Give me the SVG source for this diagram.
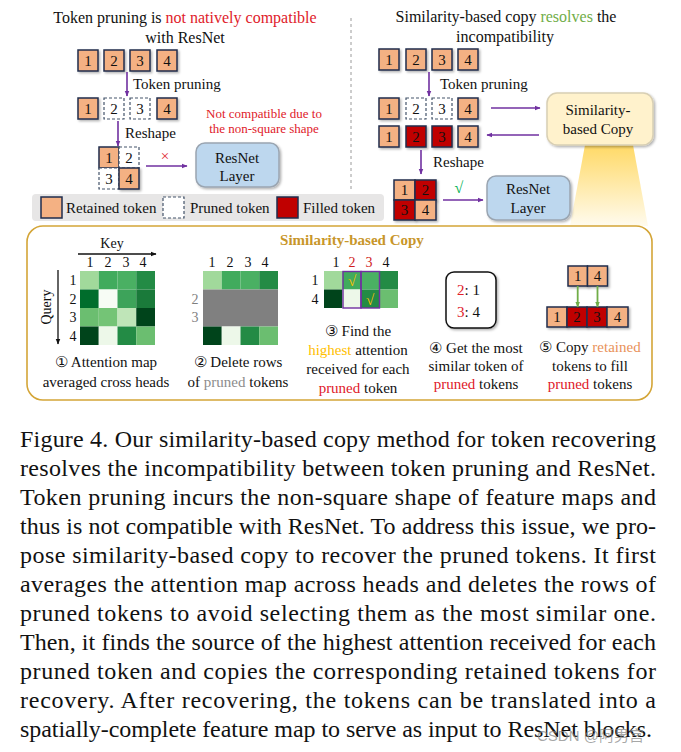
<svg xmlns="http://www.w3.org/2000/svg" width="681" height="752" viewBox="0 0 681 752">
<defs>
<style>
text{font-family:"Liberation Serif","Times New Roman",serif;fill:#111;}
.t15{font-size:15px;}
.t16{font-size:16px;}
.c{text-anchor:middle;}
.tok{fill:#F4B183;stroke:#1F2D4D;stroke-width:1.5;filter:url(#sh);}
.red{fill:#C00000;stroke:#1F2D4D;stroke-width:1.5;filter:url(#sh);}
.dash{fill:#fff;stroke:#44546A;stroke-width:1.2;stroke-dasharray:3 2;}
.num{font-size:15px;text-anchor:middle;}
.arr{stroke:#7030A0;stroke-width:1.6;fill:none;marker-end:url(#ap);}
.arrk{stroke:#111;stroke-width:1.3;fill:none;marker-end:url(#ak);}
.arrg{stroke:#70AD47;stroke-width:1.8;fill:none;marker-end:url(#ag);}
.resnet{fill:#BDD7EE;stroke:#9AA5B1;stroke-width:1.5;filter:url(#sh);}
.cap{font-size:24px;}
.rd{fill:#E0202A;}
</style>
<filter id="sh" x="-20%" y="-20%" width="150%" height="150%">
<feDropShadow dx="1.5" dy="1.5" stdDeviation="1" flood-color="#000" flood-opacity="0.3"/>
</filter>
<marker id="ap" viewBox="0 0 10 10" refX="9" refY="5" markerWidth="6" markerHeight="6" markerUnits="userSpaceOnUse" orient="auto"><path d="M0,1 L10,5 L0,9 z" fill="#7030A0"/></marker>
<marker id="ak" viewBox="0 0 10 10" refX="9" refY="5" markerWidth="6" markerHeight="6" markerUnits="userSpaceOnUse" orient="auto"><path d="M0,1 L10,5 L0,9 z" fill="#111"/></marker>
<marker id="ag" viewBox="0 0 10 10" refX="9" refY="5" markerWidth="6" markerHeight="6" markerUnits="userSpaceOnUse" orient="auto"><path d="M0,1 L10,5 L0,9 z" fill="#70AD47"/></marker>
<linearGradient id="beam" x1="0" y1="0" x2="0" y2="1">
<stop offset="0" stop-color="#FFD966"/>
<stop offset="1" stop-color="#FFFBEE"/>
</linearGradient>
</defs>
<rect width="681" height="752" fill="#fff"/>

<!-- divider -->
<line x1="351" y1="18" x2="351" y2="190" stroke="#9a9a9a" stroke-width="1" stroke-dasharray="3 3"/>

<!-- beam -->
<polygon points="585,145 633,145 648,226 570,226" fill="url(#beam)"/>

<!-- Left panel -->
<g id="left-title">
<text class="t16 c" x="185" y="23">Token pruning is <tspan class="rd">not natively compatible</tspan></text>
<text class="t16 c" x="185" y="43">with ResNet</text>
</g>
<g id="left-row1">
<rect class="tok" x="78" y="50" width="20" height="21"/><text class="num" x="88" y="66">1</text>
<rect class="tok" x="104" y="50" width="20" height="21"/><text class="num" x="114" y="66">2</text>
<rect class="tok" x="130" y="50" width="20" height="21"/><text class="num" x="140" y="66">3</text>
<rect class="tok" x="157" y="50" width="20" height="21"/><text class="num" x="167" y="66">4</text>
</g>
<g id="left-row2">
<rect class="tok" x="78" y="98" width="20" height="21"/><text class="num" x="88" y="114">1</text>
<rect class="dash" x="104" y="98" width="20" height="21"/><text class="num" x="114" y="114">2</text>
<rect class="dash" x="130" y="98" width="20" height="21"/><text class="num" x="140" y="114">3</text>
<rect class="tok" x="157" y="98" width="20" height="21"/><text class="num" x="167" y="114">4</text>
</g>
<g id="left-grid">
<rect class="tok" x="99" y="147" width="20" height="21"/><text class="num" x="109" y="163">1</text>
<rect class="dash" x="119" y="147" width="20" height="21"/><text class="num" x="129" y="163">2</text>
<rect class="dash" x="99" y="168" width="20" height="21"/><text class="num" x="109" y="184">3</text>
<rect class="tok" x="119" y="168" width="20" height="21"/><text class="num" x="129" y="184">4</text>
</g>
<g id="left-resnet">
<rect class="resnet" x="196" y="143" width="83" height="44" rx="9"/>
<text class="t15 c" x="237" y="163">ResNet</text>
<text class="t15 c" x="237" y="181">Layer</text>
</g>
<g id="left-note">
<text class="c rd" style="font-size:13px" x="264" y="118">Not compatible due to</text>
<text class="c rd" style="font-size:13px" x="264" y="133">the non-square shape</text>
</g>

<!-- Right panel -->
<g id="right-title">
<text class="t16 c" x="506" y="22">Similarity-based copy <tspan fill="#70AD47">resolves</tspan> the</text>
<text class="t16 c" x="505" y="42">incompatibility</text>
</g>
<g id="right-row1">
<rect class="tok" x="379" y="49" width="20" height="21"/><text class="num" x="389" y="65">1</text>
<rect class="tok" x="406" y="49" width="20" height="21"/><text class="num" x="416" y="65">2</text>
<rect class="tok" x="432" y="49" width="20" height="21"/><text class="num" x="442" y="65">3</text>
<rect class="tok" x="458" y="49" width="20" height="21"/><text class="num" x="468" y="65">4</text>
</g>
<g id="right-row2">
<rect class="tok" x="379" y="98" width="20" height="21"/><text class="num" x="389" y="114">1</text>
<rect class="dash" x="406" y="98" width="20" height="21"/><text class="num" x="416" y="114">2</text>
<rect class="dash" x="432" y="98" width="20" height="21"/><text class="num" x="442" y="114">3</text>
<rect class="tok" x="458" y="98" width="20" height="21"/><text class="num" x="468" y="114">4</text>
</g>
<g id="right-row3">
<rect class="tok" x="379" y="126" width="20" height="21"/><text class="num" x="389" y="142">1</text>
<rect class="red" x="406" y="126" width="20" height="21"/><text class="num" x="416" y="142">2</text>
<rect class="red" x="432" y="126" width="20" height="21"/><text class="num" x="442" y="142">3</text>
<rect class="tok" x="458" y="126" width="20" height="21"/><text class="num" x="468" y="142">4</text>
</g>
<g id="sim-box">
<rect x="547" y="93" width="106" height="52" rx="10" fill="#FFF2CC" stroke="#D8CFB4" stroke-width="1.5" filter="url(#sh)"/>
<text class="t15 c" x="598" y="115">Similarity-</text>
<text class="t15 c" x="598" y="134">based Copy</text>
</g>
<g id="right-grid">
<rect class="tok" x="394" y="180" width="21" height="20"/><text class="num" x="404.5" y="195">1</text>
<rect class="red" x="415" y="180" width="21" height="20"/><text class="num" x="425.5" y="195">2</text>
<rect class="red" x="394" y="200" width="21" height="20"/><text class="num" x="404.5" y="215">3</text>
<rect class="tok" x="415" y="200" width="21" height="20"/><text class="num" x="425.5" y="215">4</text>
</g>
<g id="right-resnet">
<rect class="resnet" x="487" y="176" width="83" height="44" rx="9"/>
<text class="t15 c" x="528" y="194">ResNet</text>
<text class="t15 c" x="528" y="213">Layer</text>
</g>

<!-- Legend -->
<g id="legend">
<rect x="32" y="194" width="352" height="27" rx="4" fill="#E7E6E6"/>
<rect class="tok" x="41" y="197" width="21" height="21" style="filter:none"/>
<text class="t15" x="66" y="213">Retained token</text>
<rect class="dash" x="163" y="197" width="21" height="21"/>
<text class="t15" x="190" y="213">Pruned token</text>
<rect class="red" x="277" y="197" width="21" height="21" style="filter:none"/>
<text class="t15" x="303" y="213">Filled token</text>
</g>

<!-- Bottom panel -->
<g id="sbc-panel">
<rect x="27" y="226" width="625" height="174" rx="16" fill="#fff" fill-opacity="0" stroke="#D4A537" stroke-width="1.6"/>
<text class="c" style="font-size:15px;font-weight:bold;fill:#C8962A" x="352" y="245">Similarity-based Copy</text>
</g>

<g id="step1">
<text class="t15 c" x="112" y="248" style="font-size:14px">Key</text>
<text class="c" style="font-size:14px" x="90" y="267">1</text>
<text class="c" style="font-size:14px" x="108" y="267">2</text>
<text class="c" style="font-size:14px" x="126" y="267">3</text>
<text class="c" style="font-size:14px" x="143" y="267">4</text>
<text class="c" style="font-size:14px" x="73" y="285">1</text>
<text class="c" style="font-size:14px" x="73" y="304">2</text>
<text class="c" style="font-size:14px" x="73" y="322">3</text>
<text class="c" style="font-size:14px" x="73" y="341">4</text>
<text class="c" style="font-size:14px" transform="translate(51,307) rotate(-90)">Query</text>
<rect x="80" y="271" width="18.75" height="18.5" fill="#A1D99B"/>
<rect x="98.75" y="271" width="18.75" height="18.5" fill="#41AB5D"/>
<rect x="117.5" y="271" width="18.75" height="18.5" fill="#4AB063"/>
<rect x="136.25" y="271" width="18.75" height="18.5" fill="#238B45"/>
<rect x="80" y="289.5" width="18.75" height="18.5" fill="#006D2C"/>
<rect x="98.75" y="289.5" width="18.75" height="18.5" fill="#F7FCF5"/>
<rect x="117.5" y="289.5" width="18.75" height="18.5" fill="#3DA35A"/>
<rect x="136.25" y="289.5" width="18.75" height="18.5" fill="#1A7A3A"/>
<rect x="80" y="308" width="18.75" height="18.5" fill="#6BBE70"/>
<rect x="98.75" y="308" width="18.75" height="18.5" fill="#74C476"/>
<rect x="117.5" y="308" width="18.75" height="18.5" fill="#BFE5B8"/>
<rect x="136.25" y="308" width="18.75" height="18.5" fill="#00441B"/>
<rect x="80" y="326.5" width="18.75" height="18.5" fill="#00441B"/>
<rect x="98.75" y="326.5" width="18.75" height="18.5" fill="#EDF8E9"/>
<rect x="117.5" y="326.5" width="18.75" height="18.5" fill="#238B45"/>
<rect x="136.25" y="326.5" width="18.75" height="18.5" fill="#6BBE70"/>
<text class="t15 c" x="106" y="367">① Attention map</text>
<text class="t15 c" x="106" y="387">averaged cross heads</text>
</g>

<g id="step2">
<text class="c" style="font-size:14px" x="212" y="267">1</text>
<text class="c" style="font-size:14px" x="230" y="267">2</text>
<text class="c" style="font-size:14px" x="248" y="267">3</text>
<text class="c" style="font-size:14px" x="265" y="267">4</text>
<text class="c" style="font-size:14px;fill:#7F7F7F" x="195" y="304">2</text>
<text class="c" style="font-size:14px;fill:#7F7F7F" x="195" y="322">3</text>
<rect x="203" y="271" width="18.75" height="18.5" fill="#A1D99B"/>
<rect x="221.75" y="271" width="18.75" height="18.5" fill="#41AB5D"/>
<rect x="240.5" y="271" width="18.75" height="18.5" fill="#4AB063"/>
<rect x="259.25" y="271" width="18.75" height="18.5" fill="#238B45"/>
<rect x="203" y="289.5" width="75" height="37" fill="#808080"/>
<rect x="203" y="326.5" width="18.75" height="18.5" fill="#00441B"/>
<rect x="221.75" y="326.5" width="18.75" height="18.5" fill="#EDF8E9"/>
<rect x="240.5" y="326.5" width="18.75" height="18.5" fill="#238B45"/>
<rect x="259.25" y="326.5" width="18.75" height="18.5" fill="#6BBE70"/>
<text class="t15 c" x="238" y="367">② Delete rows</text>
<text class="t15 c" x="238" y="387">of <tspan fill="#8C8C8C">pruned</tspan> tokens</text>
</g>

<g id="step3">
<text class="c" style="font-size:14px" x="336" y="267">1</text>
<text class="c" style="font-size:14px;fill:#D01C1C" x="352" y="267">2</text>
<text class="c" style="font-size:14px;fill:#D01C1C" x="369" y="267">3</text>
<text class="c" style="font-size:14px" x="386" y="267">4</text>
<text class="c" style="font-size:14px" x="315" y="285">1</text>
<text class="c" style="font-size:14px" x="315" y="304">4</text>
<rect x="324" y="271" width="18.5" height="18.5" fill="#A1D99B"/>
<rect x="342.5" y="271" width="18.5" height="18.5" fill="#41AB5D"/>
<rect x="361" y="271" width="18.5" height="18.5" fill="#4AB063"/>
<rect x="379.5" y="271" width="18.5" height="18.5" fill="#238B45"/>
<rect x="324" y="289.5" width="18.5" height="18.5" fill="#00441B"/>
<rect x="342.5" y="289.5" width="18.5" height="18.5" fill="#EDF8E9"/>
<rect x="361" y="289.5" width="18.5" height="18.5" fill="#238B45"/>
<rect x="379.5" y="289.5" width="18.5" height="18.5" fill="#6BBE70"/>
<rect x="343" y="271.5" width="18" height="36.5" fill="none" stroke="#7030A0" stroke-width="1.4"/>
<rect x="361" y="271.5" width="18.5" height="36.5" fill="none" stroke="#7030A0" stroke-width="1.4"/>
<text class="c" style="font-size:15px;fill:#FFC000" x="352" y="286">√</text>
<text class="c" style="font-size:15px;fill:#FFC000" x="370" y="305">√</text>
<text class="t15 c" x="358" y="336">③ Find the</text>
<text class="t15 c" x="358" y="355"><tspan fill="#FFC000">highest</tspan> attention</text>
<text class="t15 c" x="358" y="374">received for each</text>
<text class="t15 c" x="358" y="393"><tspan class="rd">pruned</tspan> token</text>
</g>

<g id="step4">
<rect x="446" y="272" width="50" height="56" rx="8" fill="#fff" stroke="#111" stroke-width="1.5" filter="url(#sh)"/>
<text class="t15" x="457" y="295"><tspan class="rd">2</tspan>: 1</text>
<text class="t15" x="457" y="317"><tspan class="rd">3</tspan>: 4</text>
<text class="t15 c" x="476" y="353">④ Get the most</text>
<text class="t15 c" x="476" y="371">similar token of</text>
<text class="t15 c" x="476" y="389"><tspan class="rd">pruned</tspan> tokens</text>
</g>

<g id="step5">
<rect class="tok" x="568" y="266" width="19.5" height="20"/><text class="num" x="577.7" y="281">1</text>
<rect class="tok" x="587.5" y="266" width="20" height="20"/><text class="num" x="597.5" y="281">4</text>
<rect class="tok" x="547" y="307" width="20" height="20"/><text class="num" x="557" y="322">1</text>
<rect class="red" x="567" y="307" width="20" height="20"/><text class="num" x="577" y="322">2</text>
<rect class="red" x="587" y="307" width="20" height="20"/><text class="num" x="597" y="322">3</text>
<rect class="tok" x="607" y="307" width="21" height="20"/><text class="num" x="617.5" y="322">4</text>
<text class="t15 c" x="590" y="352">⑤ Copy <tspan fill="#E9925A">retained</tspan></text>
<text class="t15 c" x="590" y="371">tokens to fill</text>
<text class="t15 c" x="590" y="389"><tspan class="rd">pruned</tspan> tokens</text>
</g>

<g id="connectors">
<line class="arr" x1="127" y1="72" x2="127" y2="96"/>
<text class="t15" x="133" y="89">Token pruning</text>
<line class="arr" x1="118" y1="121" x2="118" y2="146"/>
<text class="t15" x="125" y="138">Reshape</text>
<line class="arr" x1="146" y1="166" x2="187" y2="166"/>
<text class="c rd" style="font-size:15px" x="165" y="161">×</text>

<line class="arr" x1="429" y1="72" x2="429" y2="96"/>
<text class="t15" x="440" y="89">Token pruning</text>
<line class="arr" x1="491" y1="108" x2="540" y2="108"/>
<line class="arr" x1="539" y1="135" x2="487" y2="135"/>
<line class="arr" x1="421" y1="150" x2="421" y2="174"/>
<text class="t15" x="433" y="167">Reshape</text>
<line class="arr" x1="443" y1="200" x2="483" y2="200"/>
<text class="c" style="font-size:16px;fill:#00B050;font-weight:bold" x="459" y="193">√</text>

<line class="arrk" x1="78" y1="254" x2="156" y2="254"/>
<line class="arrk" x1="58" y1="270" x2="58" y2="344"/>

<line class="arrg" x1="577.7" y1="286" x2="577.7" y2="307"/>
<line class="arrg" x1="597.5" y1="286" x2="597.5" y2="307"/>
</g>

<!-- caption -->
<g id="caption">
<text class="cap" x="20" y="447" textLength="636" lengthAdjust="spacing">Figure 4.  Our similarity-based copy method for token recovering</text>
<text class="cap" x="20" y="476" textLength="636" lengthAdjust="spacing">resolves the incompatibility between token pruning and ResNet.</text>
<text class="cap" x="20" y="505" textLength="636" lengthAdjust="spacing">Token pruning incurs the non-square shape of feature maps and</text>
<text class="cap" x="20" y="534" textLength="636" lengthAdjust="spacing">thus is not compatible with ResNet. To address this issue, we pro-</text>
<text class="cap" x="20" y="563" textLength="636" lengthAdjust="spacing">pose similarity-based copy to recover the pruned tokens.  It first</text>
<text class="cap" x="20" y="592" textLength="636" lengthAdjust="spacing">averages the attention map across heads and deletes the rows of</text>
<text class="cap" x="20" y="621" textLength="636" lengthAdjust="spacing">pruned tokens to avoid selecting them as the most similar one.</text>
<text class="cap" x="20" y="650" textLength="636" lengthAdjust="spacing">Then, it finds the source of the highest attention received for each</text>
<text class="cap" x="20" y="679" textLength="636" lengthAdjust="spacing">pruned token and copies the corresponding retained tokens for</text>
<text class="cap" x="20" y="708" textLength="636" lengthAdjust="spacing">recovery.  After recovering, the tokens can be translated into a</text>
<text class="cap" x="20" y="737" textLength="632" lengthAdjust="spacing">spatially-complete feature map to serve as input to ResNet blocks.</text>
</g>
<text x="537" y="741" style="font-family:'Liberation Sans','Noto Sans CJK SC',sans-serif;font-size:15px;fill:#8a8a8a;fill-opacity:0.75">CSDN @阿男宫</text>
</svg>
